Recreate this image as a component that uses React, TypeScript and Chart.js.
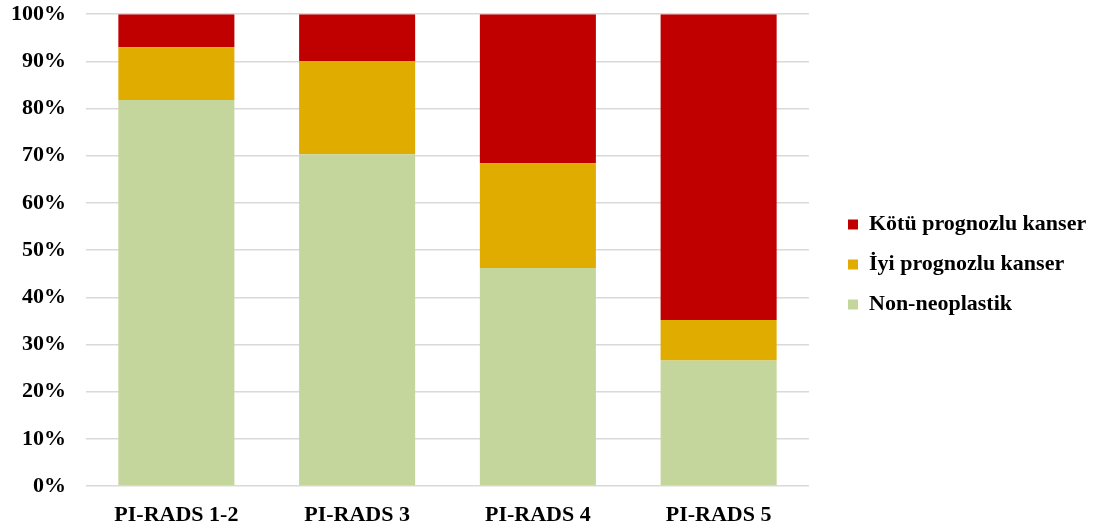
import React, { useEffect, useRef } from "react";
import { Chart, registerables } from "chart.js";

Chart.register(...registerables);

// PI-RADS categories and the share (%) of each pathology outcome
const categories = ["PI-RADS 1-2", "PI-RADS 3", "PI-RADS 4", "PI-RADS 5"];
const nonNeoplastik = [81.8, 70.3, 46.2, 26.6];
const iyiPrognozlu = [11.2, 19.8, 22.2, 8.6];
const kotuPrognozlu = [7.0, 9.9, 31.6, 64.8];
const yTicks = [0, 10, 20, 30, 40, 50, 60, 70, 80, 90, 100];

const FONT = "'Liberation Serif', 'Times New Roman', serif";
const FONT_SIZE = 22;
const LEGEND_WIDTH = 289;

// fixed-width legend column, with its items pushed a bit away from the plot
const legendPlacement = {
  id: "legendPlacement",
  beforeLayout(chart: any) {
    const lg = chart.legend;
    if (lg && !lg.__fixed) {
      const fit = lg.fit.bind(lg);
      lg.fit = function () {
        fit();
        this.width = LEGEND_WIDTH;
      };
      lg.__fixed = true;
    }
  },
  afterLayout(chart: any) {
    const lg = chart.legend;
    if (lg) {
      lg.left += 21;
      lg.right += 21;
    }
  },
};

export default function App() {
  const ref = useRef<HTMLCanvasElement | null>(null);

  useEffect(() => {
    if (!ref.current) return;
    const tickFont = { family: FONT, size: FONT_SIZE, weight: "bold" as const };
    const chart = new Chart(ref.current, {
      type: "bar",
      data: {
        labels: categories,
        datasets: [
          { label: "Non-neoplastik", data: nonNeoplastik, backgroundColor: "#C4D69C" },
          { label: "İyi prognozlu kanser", data: iyiPrognozlu, backgroundColor: "#E1AC00" },
          { label: "Kötü prognozlu kanser", data: kotuPrognozlu, backgroundColor: "#C00000" },
        ],
      },
      options: {
        animation: false,
        responsive: false,
        maintainAspectRatio: false,
        layout: { padding: { left: 10, right: 0, top: 0, bottom: -2 } },
        datasets: { bar: { categoryPercentage: 1, barPercentage: 0.642 } },
        scales: {
          x: {
            stacked: true,
            grid: { display: true, color: "rgba(0,0,0,0)", drawTicks: true, tickLength: 15, tickColor: "rgba(0,0,0,0)" },
            border: { display: false },
            ticks: { color: "#000", padding: 3, font: { ...tickFont, lineHeight: 1.0 } },
          },
          y: {
            stacked: true,
            min: 0,
            max: 100,
            afterBuildTicks(scale: any) {
              scale.ticks = yTicks.map((v) => ({ value: v }));
            },
            grid: { color: "#D9D9D9", lineWidth: 1.5, drawTicks: true, tickLength: 19, tickColor: "rgba(0,0,0,0)" },
            border: { display: false },
            ticks: {
              color: "#000",
              padding: 1,
              font: tickFont,
              callback: (v: any) => v + "%",
            },
          },
        },
        plugins: {
          legend: {
            position: "right",
            reverse: true,
            labels: {
              boxWidth: 10,
              boxHeight: 10,
              padding: 18,
              color: "#000",
              font: tickFont,
            },
          },
          tooltip: { enabled: false },
        },
      },
      plugins: [legendPlacement],
    });
    return () => chart.destroy();
  }, []);

  return (
    <div style={{ position: "absolute", left: 0, top: 0, width: 1098, height: 527, background: "#fff" }}>
      <canvas ref={ref} width={1098} height={527} />
    </div>
  );
}
